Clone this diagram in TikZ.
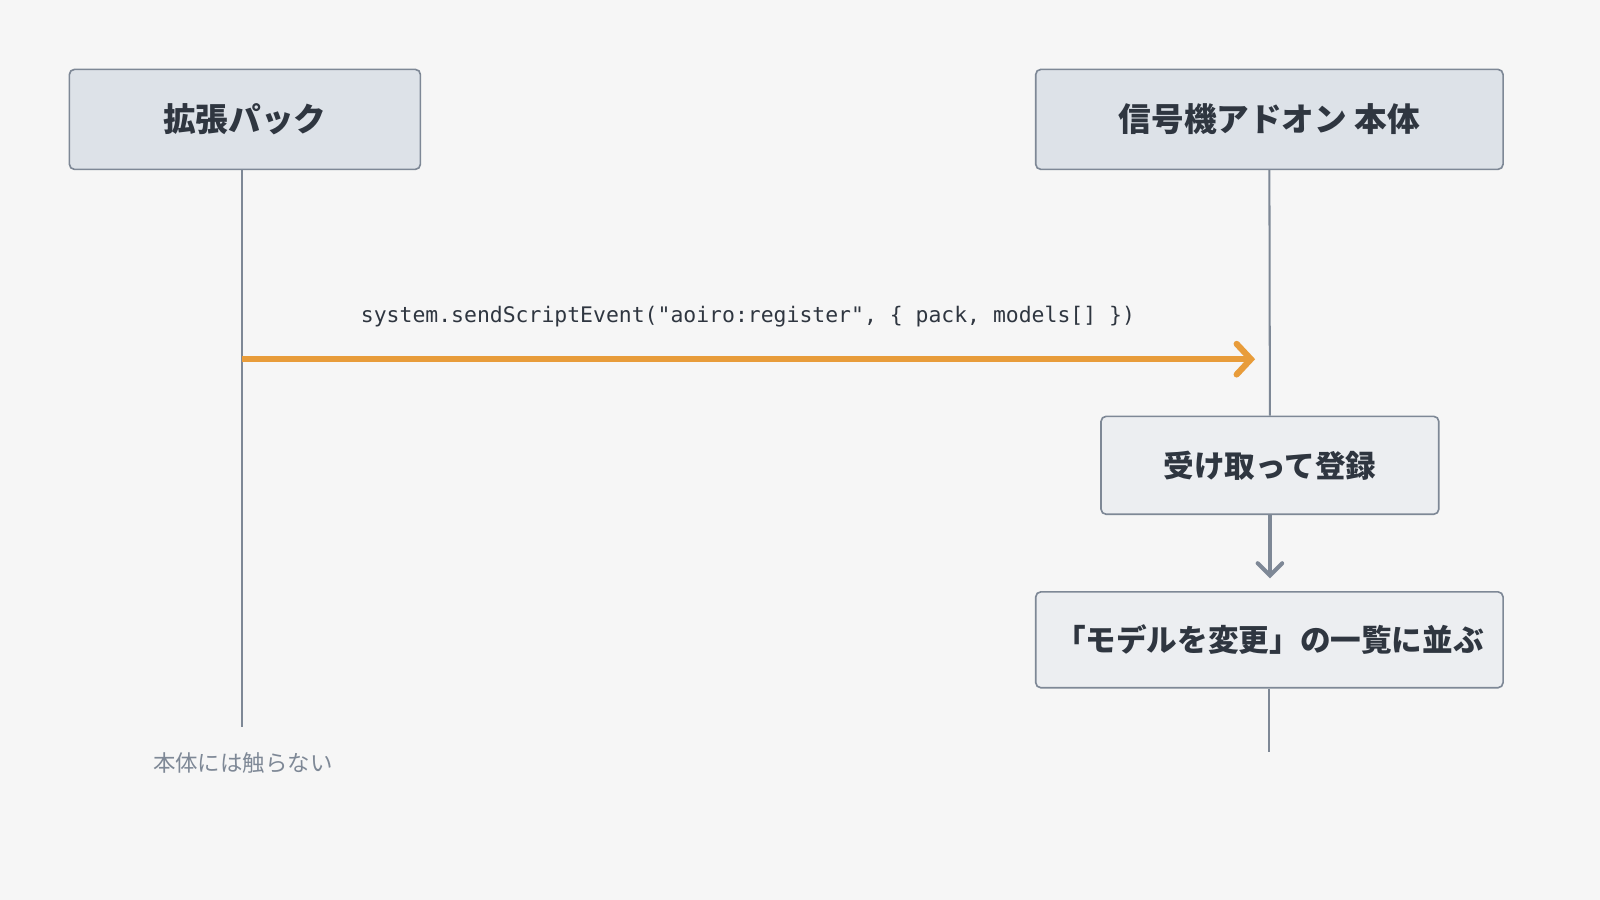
\documentclass[tikz,border=0pt]{standalone}
\usepackage{fontspec}
\setmainfont{Noto Sans CJK JP}
\setmonofont{DejaVu Sans Mono}
\usetikzlibrary{arrows.meta,positioning}

\definecolor{bgcol}{HTML}{F6F6F6}
\definecolor{actorfill}{HTML}{DDE2E8}
\definecolor{stepfill}{HTML}{ECEEF1}
\definecolor{edgecol}{HTML}{7E8896}
\definecolor{msgcol}{HTML}{E89C3A}
\definecolor{txtcol}{HTML}{2F3640}

\tikzset{
  actor/.style={draw=edgecol, line width=1.6pt, rounded corners=5pt, fill=actorfill,
    minimum height=98pt, text=txtcol, font=\fontsize{32}{36}\selectfont\bfseries},
  stepbox/.style={draw=edgecol, line width=1.6pt, rounded corners=5pt, fill=stepfill,
    text=txtcol, font=\fontsize{30}{34}\selectfont\bfseries},
  lifeline/.style={draw=edgecol, line width=2pt},
}

\begin{document}
\begin{tikzpicture}[x=1pt,y=-1pt]
\fill[bgcol] (0,0) rectangle (1568,882);
\useasboundingbox (0,0) rectangle (1568,882);

% actors
\node[actor, minimum width=344pt] (pack) at (240,117) {拡張パック};
\node[actor, minimum width=458pt] (addon) at (1244,117) {信号機アドオン 本体};

% steps
\node[stepbox, minimum width=331pt, minimum height=96pt] (recv) at (1244.5,456) {受け取って登録};
\node[stepbox, minimum width=458pt, minimum height=94pt] (list) at (1244,627) {「モデルを変更」の一覧に並ぶ};

% lifelines
\coordinate (packend) at (237,712);
\coordinate (addonend) at (1244,737);
\draw[lifeline] (pack.south -| packend) -- (packend);
\draw[lifeline] (addon.south) -- (recv.north);
\draw[lifeline] (list.south) -- (addonend);
\draw[lifeline, line width=4pt, -{Straight Barb[length=12pt,width=24pt,line cap=round]}]
  (recv.south) -- ++(0,62) coordinate (stepend);

% message
\coordinate (msgstart) at (237,352);
\coordinate (msgend) at (1230,352);
\draw[msgcol, line width=6pt, -{Straight Barb[length=14pt,width=30pt,line cap=round]}]
  (msgstart) -- (msgend);
\node[text=txtcol, font=\fontsize{21}{24}\selectfont\ttfamily] (call) at (733,310)
  {system.sendScriptEvent("aoiro:register", \{ pack, models[] \})};

% note
\node[text=edgecol, font=\fontsize{22}{26}\selectfont] (note) at (238,748) {本体には触らない};
\end{tikzpicture}
\end{document}
